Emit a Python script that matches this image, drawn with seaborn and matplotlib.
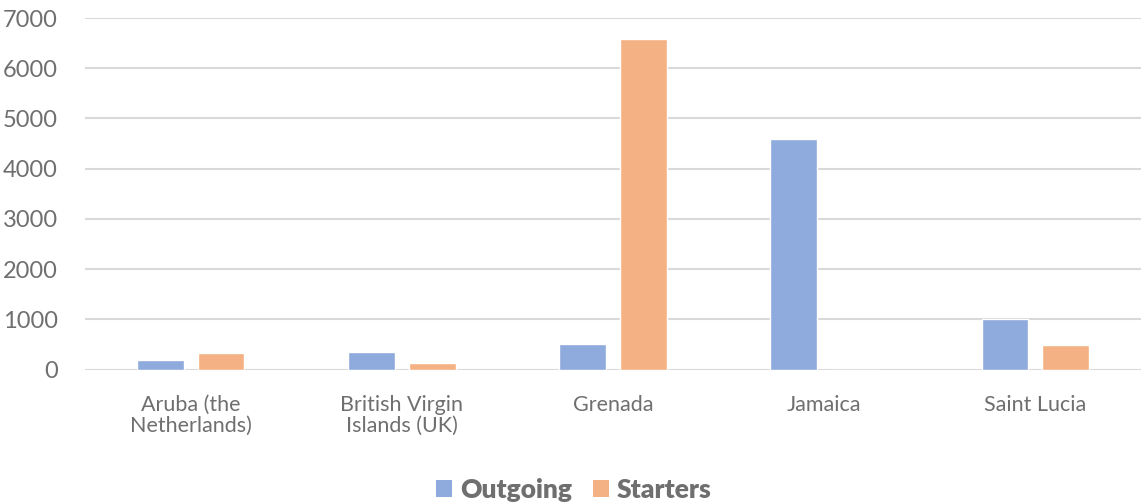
import pandas as pd
import numpy as np

import seaborn as sns
import matplotlib.pyplot as plt
from matplotlib.patches import Patch


countries = ['Aruba (the\nNetherlands)', 'British Virgin\nIslands (UK)', 'Grenada', 'Jamaica', 'Saint Lucia']
outgoing = [190, 350, 500, 4600, 1000]
starters = [320, 130, 6590, 0, 480]
series = ['Outgoing', 'Starters']
colors = ['#8FAADC', '#F4B183']
yticks = [0, 1000, 2000, 3000, 4000, 5000, 6000, 7000]

df = pd.DataFrame({
    'country': countries * 2,
    'series': [series[0]] * len(countries) + [series[1]] * len(countries),
    'value': outgoing + starters,
})

sns.set_style('white')
plt.rcParams['font.family'] = ['Lato', 'DejaVu Sans']
text_col = '#6f6f6f'

fig = plt.figure(figsize=(11.41, 5.03), dpi=100)
ax = fig.add_axes([0.0749, 0.2654, 0.9247, 0.6988])

sns.barplot(data=df, x='country', y='value', hue='series', palette=colors,
            width=0.57, gap=0.22, ax=ax, legend=False, saturation=1)

ax.set_ylim(0, 7000)
ax.set_yticks(yticks)
ax.set_xlim(-0.5, len(countries) - 0.5)
ax.grid(axis='y', color='#d9d9d9', linewidth=1.5)
ax.set_axisbelow(True)
for s in ax.spines.values():
    s.set_visible(False)
ax.tick_params(axis='y', length=0, pad=20, labelsize=17, labelcolor=text_col)
ax.tick_params(axis='x', length=0, pad=18, labelsize=15.5, labelcolor=text_col)
for lbl in ax.get_xticklabels():
    lbl.set_linespacing(1.1)
ax.set_xlabel('')
ax.set_ylabel('')

handles = [Patch(facecolor=c, edgecolor='none') for c in colors]
leg = fig.legend(handles, series, loc='center', bbox_to_anchor=(574 / 1141, 1 - 490 / 503),
                 ncol=2, frameon=False, handlelength=0.6, handleheight=0.6,
                 handletextpad=0.3, columnspacing=0.8,
                 prop={'size': 19, 'weight': 'heavy'})
for t in leg.get_texts():
    t.set_color(text_col)

plt.savefig('out.png', dpi=100)
